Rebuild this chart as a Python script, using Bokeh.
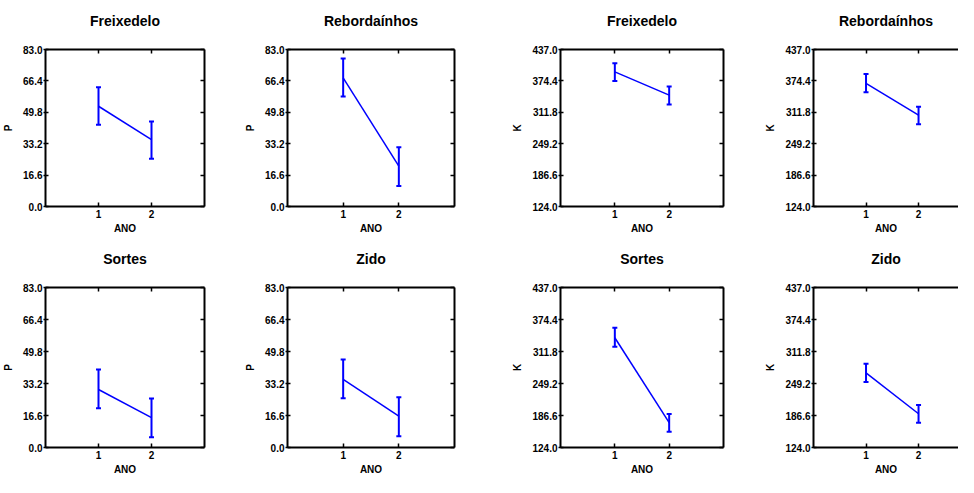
from bokeh.plotting import figure
from bokeh.models import (Range1d, FixedTicker, PrintfTickFormatter, LinearAxis,
                          Whisker, ColumnDataSource, TeeHead, CustomLabelingPolicy)
from bokeh.layouts import row, column
from bokeh.embed import file_html
from bokeh.resources import INLINE

# ---- data ----
sites = ["Freixedelo", "Rebordaínhos", "Sortes", "Zido"]
anos = [1, 2]
x_ticks = [1, 2]

p_ticks = [0.0, 16.6, 33.2, 49.8, 66.4, 83.0]
p_mean = [[53.0, 35.4], [68.0, 21.3], [30.1, 15.5], [35.4, 16.3]]
p_upper = [[63.1, 44.9], [78.3, 31.3], [40.4, 25.4], [45.7, 26.1]]
p_lower = [[43.2, 25.2], [58.2, 10.8], [20.3, 5.3], [25.6, 5.8]]

k_ticks = [124.0, 186.6, 249.2, 311.8, 374.4, 437.0]
k_mean = [[392.5, 346.0], [369.4, 306.2], [338.7, 172.8], [269.9, 190.0]]
k_upper = [[409.5, 363.1], [388.2, 323.1], [358.1, 189.7], [288.0, 207.3]]
k_lower = [[374.4, 327.5], [351.9, 288.0], [321.2, 154.7], [252.3, 172.2]]

FONT = "Liberation Sans"
BLUE = "#0000FF"


def panel(title, ylabel, mean, lower, upper, yticks, width, height,
          b_left, b_right, b_top, b_bottom, x_end, right_axis=True):
    p = figure(width=width, height=height, output_backend="svg",
               toolbar_location=None, x_range=Range1d(0, x_end),
               y_range=Range1d(yticks[0], yticks[-1]),
               min_border_left=b_left, min_border_right=b_right,
               min_border_top=b_top, min_border_bottom=b_bottom,
               outline_line_color=None, background_fill_color="white",
               border_fill_color="white")
    p.grid.visible = False

    p.title.text = title
    p.title.align = "center"
    p.title.text_font = FONT
    p.title.text_font_size = "14px"
    p.title.text_font_style = "bold"
    p.title.text_color = "black"
    p.title.standoff = 20

    ya = p.yaxis[0]
    ya.ticker = FixedTicker(ticks=yticks)
    ya.formatter = PrintfTickFormatter(format="%.1f")
    ya.axis_label = ylabel
    xa = p.xaxis[0]
    xa.ticker = FixedTicker(ticks=x_ticks)
    xa.axis_label = "ANO"

    top = LinearAxis(ticker=FixedTicker(ticks=x_ticks))
    p.add_layout(top, "above")
    axes = [ya, xa, top]
    if right_axis:
        right = LinearAxis(ticker=FixedTicker(ticks=yticks))
        p.add_layout(right, "right")
        axes.append(right)

    for a in axes:
        a.axis_line_color = "black"
        a.axis_line_width = 2
        a.major_tick_line_color = "black"
        a.major_tick_line_width = 1.5
        a.major_tick_in = 4
        a.major_tick_out = 0
        a.minor_tick_line_color = None
        a.major_label_text_font = FONT
        a.major_label_text_font_style = "bold"
        a.major_label_text_font_size = "10px"
        a.major_label_text_color = "black"
        a.major_label_standoff = 3
        a.axis_label_text_font = FONT
        a.axis_label_text_font_style = "bold"
        a.axis_label_text_font_size = "10px"
        a.axis_label_text_color = "black"
        a.axis_label_standoff = 2
    ya.major_tick_out = 2
    ya.major_tick_in = 3
    ya.major_label_standoff = 1
    ya.axis_label_standoff = 6
    for a in axes[2:]:
        a.major_label_policy = CustomLabelingPolicy(
            code="for (const i of indices) indices.unset(i)")
        a.major_label_standoff = 0

    src = ColumnDataSource(dict(x=anos, m=mean, lo=lower, up=upper))
    w = Whisker(source=src, base="x", upper="up", lower="lo",
                line_color=BLUE, line_width=2,
                upper_head=TeeHead(size=5, line_color=BLUE, line_width=2),
                lower_head=TeeHead(size=5, line_color=BLUE, line_width=2))
    p.add_layout(w)
    p.line("x", "m", source=src, line_color=BLUE, line_width=1.5)
    return p


widths = [242, 240, 280, 196]
b_lefts = [37, 45, 78, 46]
b_rights = [38, 28, 39, 0]
x_ends = [3, 3, 3, 3 * 150 / 163]

rows = []
for r, (h, bt_p, bb_p, bt_k, bb_k) in enumerate([(238, 39, 32, 44, 29),
                                                  (239, 46, 28, 48, 28)]):
    figs = []
    for c in range(4):
        s = r * 2 + (c % 2)
        if c < 2:
            f = panel(sites[s], "P", p_mean[s], p_lower[s], p_upper[s], p_ticks,
                      widths[c], h, b_lefts[c], b_rights[c], bt_p, bb_p, x_ends[c])
        else:
            f = panel(sites[s], "K", k_mean[s], k_lower[s], k_upper[s], k_ticks,
                      widths[c], h, b_lefts[c], b_rights[c], bt_k, bb_k, x_ends[c],
                      right_axis=(c != 3))
        figs.append(f)
    rows.append(row(*figs, spacing=0))

layout = column(*rows, spacing=0)
open("out.html", "w").write(file_html(layout, INLINE))
